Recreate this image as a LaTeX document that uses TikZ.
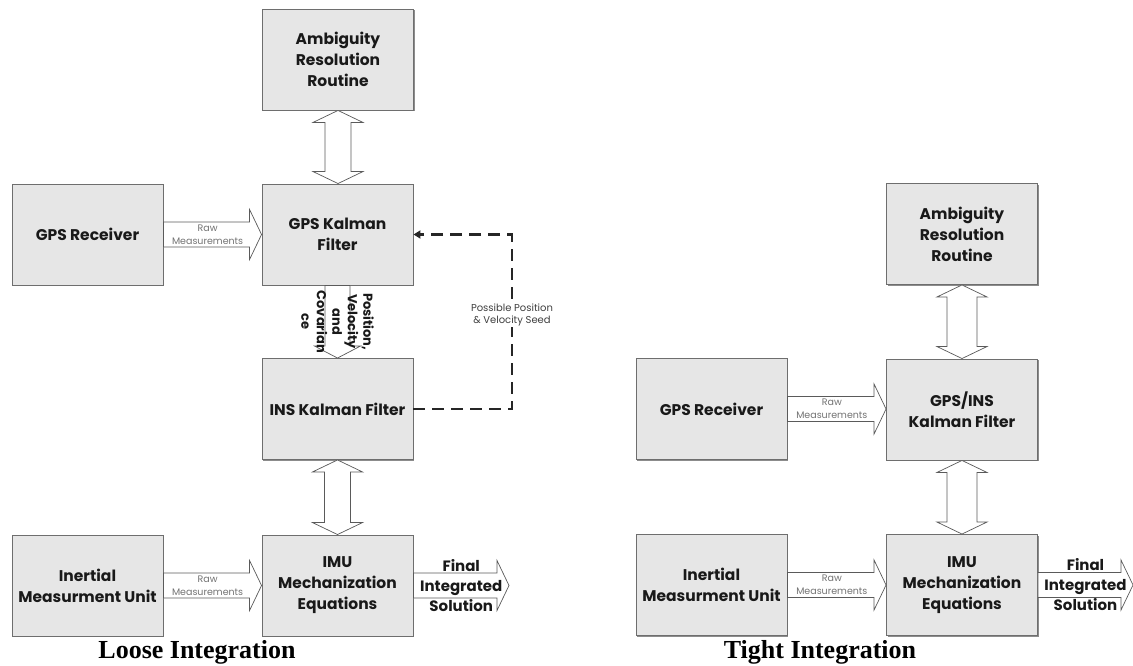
\documentclass[tikz,border=0pt]{standalone}
\usepackage{fontspec}
\setmainfont{Poppins}
\newfontfamily\capfont{Liberation Serif}
\usetikzlibrary{shadows,arrows.meta,calc}
\definecolor{boxgray}{RGB}{230,230,230}
\definecolor{edgegray}{RGB}{110,110,110}
\definecolor{arrowgray}{RGB}{90,90,90}

\newcommand\HArr[2]{%
  \path[blockarrow] let \p1=(#1), \p2=(#2) in
   (\x1,\y1+12.5pt) -- (\x2-12pt,\y1+12.5pt) -- (\x2-12pt,\y1+25pt) -- (\x2,\y1)
   -- (\x2-12pt,\y1-25pt) -- (\x2-12pt,\y1-12.5pt) -- (\x1,\y1-12.5pt) -- cycle;}
\newcommand\VDbl[3]{%
  \path[blockarrow] let \p1=(#1), \p2=(#2) in
   (\x1,\y1) -- (\x1+25pt,\y1-12pt) -- (\x1+#3,\y1-12pt) -- (\x1+#3,\y2+12pt)
   -- (\x1+25pt,\y2+12pt) -- (\x1,\y2) -- (\x1-25pt,\y2+12pt) -- (\x1-#3,\y2+12pt)
   -- (\x1-#3,\y1-12pt) -- (\x1-25pt,\y1-12pt) -- cycle;}
\newcommand\VArr[2]{%
  \path[blockarrow] let \p1=(#1), \p2=(#2) in
   (\x1-12.5pt,\y1) -- (\x1+12.5pt,\y1) -- (\x1+12.5pt,\y2+12pt) -- (\x1+23pt,\y2+12pt)
   -- (\x1,\y2) -- (\x1-23pt,\y2+12pt) -- (\x1-12.5pt,\y2+12pt) -- cycle;}

\begin{document}
\begin{tikzpicture}[x=1pt,y=-1pt,
  box/.style={draw=edgegray, line width=0.9pt, fill=boxgray, minimum width=151pt,
    minimum height=101pt, inner sep=0pt, align=center,
    font=\fontsize{15.5}{21}\selectfont\bfseries, text=black!90,
    drop shadow={shadow xshift=1.3pt, shadow yshift=-1.3pt, fill=gray!90, opacity=1, shadow scale=1}},
  blockarrow/.style={draw=arrowgray, fill=white, line width=0.7pt, line join=miter},
  rawlbl/.style={font=\fontsize{9.5}{13}\selectfont, text=black!55, align=center, inner sep=0pt},
  finlbl/.style={font=\fontsize{15}{20}\selectfont\bfseries, text=black!90, align=center, inner sep=0pt},
  poslbl/.style={font=\fontsize{13}{15.5}\selectfont\bfseries, text=black!90, align=center, inner sep=0pt},
  seedlbl/.style={font=\fontsize{10}{12}\selectfont, text=black!75, align=center, fill=white, inner sep=1pt},
  seedline/.style={draw=black!85, line width=2.2pt, dash pattern=on 12pt off 7pt,
    -{Triangle[length=7pt,width=8pt]}},
  caption/.style={font=\capfont\bfseries\fontsize{26}{30}\selectfont, inner sep=0pt}]
\useasboundingbox (0,0) rectangle (1133,666);

% ---------- Loose integration ----------
\node[box] (ambL)   at (338,59.5)   {Ambiguity\\Resolution\\Routine};
\node[box] (gpsrL)  at (87.5,234.5) {GPS Receiver};
\node[box] (gpskfL) at (337.5,234.5){GPS Kalman\\Filter};
\node[box] (insL)   at (337.5,409)  {INS Kalman Filter};
\node[box] (inertL) at (87.5,585.5) {Inertial\\Measurment Unit};
\node[box] (imuL)   at (337.5,585.5){IMU\\Mechanization\\Equations};
\coordinate (finL) at (509,585.5);
\coordinate (seedx) at (512,0);

\VDbl{ambL.south}{gpskfL.north}{13pt}
\VDbl{insL.south}{imuL.north}{13pt}
\VArr{gpskfL.south}{insL.north}
\HArr{gpsrL.east}{gpskfL.west}
\HArr{inertL.east}{imuL.west}
\HArr{imuL.east}{finL}

\node[rawlbl] (rawL1) at ($(gpsrL.east)!0.45!(gpskfL.west)$) {Raw\\Measurements};
\node[rawlbl] (rawL2) at ($(inertL.east)!0.45!(imuL.west)$) {Raw\\Measurements};
\node[finlbl] (finLt) at ($(imuL.east)!0.5!(finL)$) {Final\\Integrated\\Solution};
\node[poslbl, rotate=-90] (posL) at ($(gpskfL.south)!0.5!(insL.north)$)
  {Position,\\Velocity\\and\\Covarian\\ce};

\draw[seedline] (insL.east) -- (insL.east -| seedx) |- (gpskfL.east);
\node[seedlbl] (seedL) at (512,315) {Possible Position\\\& Velocity Seed};

\node[caption] (capL) at (197,652) {Loose Integration};

% ---------- Tight integration ----------
\node[box] (ambR)    at (962,234)   {Ambiguity\\Resolution\\Routine};
\node[box] (gpsrR)   at (711.5,409) {GPS Receiver};
\node[box] (gpsinsR) at (962,409.5) {GPS/INS\\Kalman Filter};
\node[box] (inertR)  at (711.5,585) {Inertial\\Measurment Unit};
\node[box] (imuR)    at (962,585)   {IMU\\Mechanization\\Equations};
\coordinate (finR) at (1133,585);

\VDbl{ambR.south}{gpsinsR.north}{15pt}
\VDbl{gpsinsR.south}{imuR.north}{15pt}
\HArr{gpsrR.east}{gpsinsR.west}
\HArr{inertR.east}{imuR.west}
\HArr{imuR.east}{finR}

\node[rawlbl] (rawR1) at ($(gpsrR.east)!0.45!(gpsinsR.west)$) {Raw\\Measurements};
\node[rawlbl] (rawR2) at ($(inertR.east)!0.45!(imuR.west)$) {Raw\\Measurements};
\node[finlbl] (finRt) at ($(imuR.east)!0.5!(finR)$) {Final\\Integrated\\Solution};

\node[caption] (capR) at (820,652) {Tight Integration};
\end{tikzpicture}
\end{document}
